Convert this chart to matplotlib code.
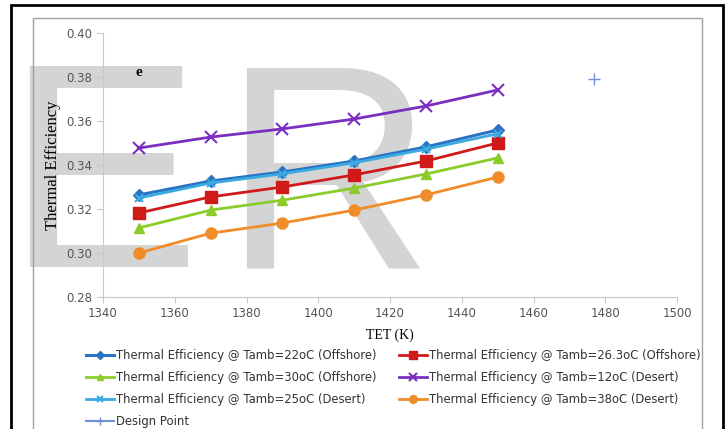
import matplotlib.pyplot as plt
from matplotlib.patches import Rectangle

tet = [1350, 1370, 1390, 1410, 1430, 1450]

eff_22_off = [0.3264, 0.3327, 0.3368, 0.3418, 0.3482, 0.3559]
eff_263_off = [0.3182, 0.3255, 0.3300, 0.3355, 0.3418, 0.3500]
eff_30_off = [0.3114, 0.3195, 0.3240, 0.3295, 0.3359, 0.3432]
eff_12_des = [0.3477, 0.3527, 0.3564, 0.3609, 0.3668, 0.3741]
eff_25_des = [0.3250, 0.3318, 0.3360, 0.3410, 0.3472, 0.3542]
eff_38_des = [0.3000, 0.3090, 0.3136, 0.3195, 0.3264, 0.3345]

design_tet = [1477]
design_eff = [0.379]

labels = ['Thermal Efficiency @ Tamb=22oC (Offshore)',
          'Thermal Efficiency @ Tamb=26.3oC (Offshore)',
          'Thermal Efficiency @ Tamb=30oC (Offshore)',
          'Thermal Efficiency @ Tamb=12oC (Desert)',
          'Thermal Efficiency @ Tamb=25oC (Desert)',
          'Thermal Efficiency @ Tamb=38oC (Desert)',
          'Design Point']

fig = plt.figure(figsize=(7.26, 4.29), dpi=100)

# watermark letters behind the chart
fig.text(5/726, 1-267/429, 'E', fontsize=210, family='Liberation Sans', color='#d4d4d4',
         ha='left', va='baseline', zorder=-5)
fig.text(222/726, 1-267/429, 'R', fontsize=210, family='Liberation Sans', color='#d4d4d4',
         ha='left', va='baseline', zorder=-5)

# chart frame and outer border
fig.patches.append(Rectangle((33/726, -0.01), (702-33)/726, 1-18/429+0.01, transform=fig.transFigure,
                             fill=False, edgecolor='#a0a0a0', lw=1.0, zorder=-4))
fig.patches.append(Rectangle((11/726, -0.01), (723-11)/726, 1-5/429+0.01, transform=fig.transFigure,
                             fill=False, edgecolor='black', lw=2.0, zorder=-4))

ax = fig.add_axes([103/726, 1-297/429, (677-103)/726, (297-33)/429])
ax.patch.set_alpha(0)

h1, = ax.plot(tet, eff_22_off, color='#2a72c4', marker='D', ms=6, lw=2.2)
h2, = ax.plot(tet, eff_263_off, color='#d01a1a', marker='s', ms=8, lw=2.0)
h3, = ax.plot(tet, eff_30_off, color='#8ccc2a', marker='^', ms=7, lw=2.0)
h4, = ax.plot(tet, eff_12_des, color='#7a2fc0', marker='x', ms=8, mew=1.5, lw=2.0)
h5, = ax.plot(tet, eff_25_des, color='#3aaae0', marker='x', ms=6, mew=1.5, lw=2.0)
h6, = ax.plot(tet, eff_38_des, color='#f08c2a', marker='o', ms=8, lw=2.0)
h7, = ax.plot(design_tet, design_eff, color='#6f8fd8', marker='+', ms=8, mew=1.0, lw=1.5)

ax.set_xlim(1340, 1500)
ax.set_ylim(0.28, 0.40)
ax.set_xticks(range(1340, 1501, 20))
ax.set_yticks([0.28, 0.30, 0.32, 0.34, 0.36, 0.38, 0.40])
ax.set_yticklabels(['%.2f' % v for v in ax.get_yticks()])
for s in ['top', 'right']:
    ax.spines[s].set_visible(False)
for s in ['left', 'bottom']:
    ax.spines[s].set_color('#c8c8c8')
ax.tick_params(colors='#c8c8c8', labelcolor='#555555', labelsize=8.5, length=4)

ax.set_xlabel('TET (K)', family='Liberation Serif', fontsize=10, labelpad=6)
ax.set_ylabel('Thermal Efficiency', family='Liberation Serif', fontsize=12, labelpad=4)
ax.text(1349, 0.3805, 'e', family='Liberation Serif', fontweight='bold', fontsize=11)

# excel-style legend below plot, column-major order
handles = [h1, h3, h5, h7, h2, h4, h6]
leg_labels = [labels[0], labels[2], labels[4], labels[6], labels[1], labels[3], labels[5]]
leg = fig.legend(handles, leg_labels, ncol=2, loc='upper left', bbox_to_anchor=(75/726, 1-339/429),
                 frameon=False, fontsize=8.4, handlelength=2.4, handletextpad=0.2, labelspacing=0.75,
                 columnspacing=1.9, markerscale=0.7)
for t in leg.get_texts():
    t.set_color('#333333')

fig.savefig('out.png', dpi=100)
